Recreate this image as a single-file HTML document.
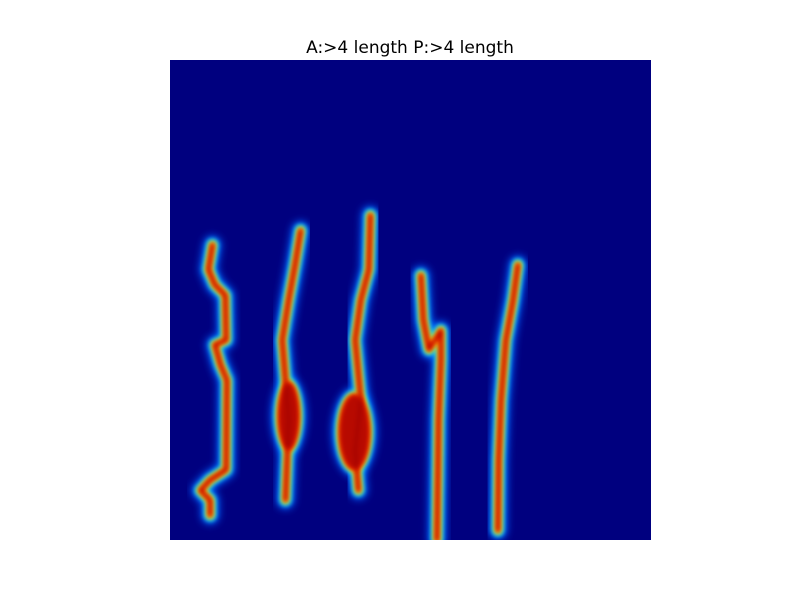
<!DOCTYPE html>
<html><head><meta charset="utf-8"><style>
body{margin:0;background:#fff;width:800px;height:600px;overflow:hidden;font-family:"DejaVu Sans","Liberation Sans",sans-serif}
</style></head><body>
<svg width="800" height="600">
<defs>
<filter id="b1" x="-50%" y="-50%" width="200%" height="200%"><feGaussianBlur stdDeviation="4"/></filter>
<filter id="b2" x="-50%" y="-50%" width="200%" height="200%"><feGaussianBlur stdDeviation="2.5"/></filter>
<clipPath id="ax"><rect x="170" y="60" width="481" height="480"/></clipPath>
</defs>
<text x="410" y="53" text-anchor="middle" font-size="17" fill="#000">A:&gt;4 length P:&gt;4 length</text>
<rect x="170" y="60" width="481" height="480" fill="#00007f"/>
<g id="marks" clip-path="url(#ax)"></g>
</svg>
<script>
// stroke data in image-grid coordinates (0..60 x, 0..60 y), 8px per cell
const strokeDigit3 = [[5.3,23.1],[4.8,26.2],[5.6,28.1],[6.9,29.4],[7.0,35.0],[5.6,35.6],[6.3,38.1],[7.1,40.0],[7.0,51.2],[5.0,52.5],[3.8,53.8],[5.0,55.0],[5.0,56.9]];
const strokeDigit5 = [[16.3,21.3],[15.6,25.6],[14.8,30.0],[14.0,35.0],[14.4,40.0],[14.8,45.0],[14.4,55.0]];
const strokeDigit6 = [[25.0,19.4],[24.8,26.2],[23.8,30.0],[23.1,35.0],[23.8,42.5],[23.1,48.8],[23.5,53.8]];
const strokeDigit7a = [[31.3,26.9],[31.6,32.5],[32.3,36.2],[33.8,33.8],[33.8,37.5],[33.5,45.0],[33.3,60.0]];
const strokeDigit7b = [[43.4,25.6],[42.8,30.0],[41.9,35.0],[41.3,42.5],[41.0,50.0],[40.9,58.8]];
const blobCenters = [[14.8,44.5],[23.0,46.5]];
const blobSizes = [[1.6,4.5],[2.2,5.0]];
const strokes = [strokeDigit3, strokeDigit5, strokeDigit6, strokeDigit7a, strokeDigit7b];
const sx = v => 170 + v * 481 / 60;
const sy = v => 60 + v * 480 / 60;
const g = document.getElementById('marks');
const NS = 'http://www.w3.org/2000/svg';
const layers = [['#0060ff',18,'b1',1],['#00e0ff',12,'b2',1],['#f0f000',8,'b2',1],['#ff2000',5,'b2',1],['#9a0000',2,'b2',0.7]];
layers.forEach(([col,w,f,op], li) => {
  strokes.forEach((s, si) => {
    const p = document.createElementNS(NS,'polyline');
    
    
    p.setAttribute('points', s.map(d => sx(d[0]) + ',' + sy(d[1])).join(' '));
    p.setAttribute('fill','none');p.setAttribute('stroke',col);p.setAttribute('stroke-width',w);
    p.setAttribute('stroke-linecap','round');p.setAttribute('stroke-linejoin','round');
    p.setAttribute('filter','url(#' + f + ')');
    g.appendChild(p);
  });
  blobCenters.forEach((c, bi) => {
    const e = document.createElementNS(NS,'ellipse');
    
    
    e.setAttribute('cx', sx(c[0])); e.setAttribute('cy', sy(c[1]));
    e.setAttribute('rx', blobSizes[bi][0]*8 + w/2 - 4); e.setAttribute('ry', blobSizes[bi][1]*8 + w/2 - 4);
    e.setAttribute('fill', col); e.setAttribute('opacity', op); e.setAttribute('filter','url(#' + f + ')');
    g.appendChild(e);
  });
});
</script>
</body></html>
